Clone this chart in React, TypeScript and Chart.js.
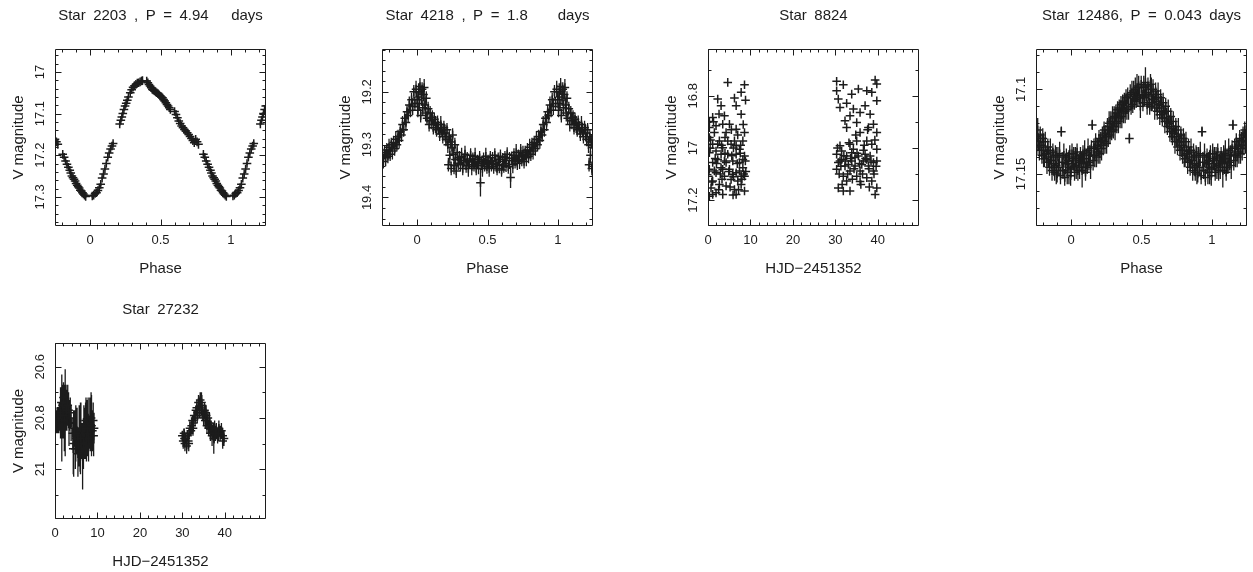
import React, { useEffect, useRef } from "react";
import { Chart, registerables } from "chart.js";

Chart.register(...registerables);

const INK = "#1c1c1c";
const FAMILY = '"Liberation Sans", Arial, sans-serif';
const SP = "\u2002"; // PGPLOT's wide word space

// ---------------- tick labels ----------------
const phaseMajorTicks = [0, 0.5, 1];
const hjdMajorTicks = [0, 10, 20, 30, 40];
const star2203MagTicks = [17, 17.1, 17.2, 17.3];
const star4218MagTicks = [19.2, 19.3, 19.4];
const star8824MagTicks = [16.8, 17, 17.2];
const star12486MagTicks = [17.1, 17.15];
const star27232MagTicks = [20.6, 20.8, 21];

// ---------------- titles ----------------
const titleWords = [
  ["Star", "2203", ",", "P", "=", "4.94", "", "", "days"],
  ["Star", "4218", ",", "P", "=", "1.8", "", "", "", "days"],
  ["Star", "8824"],
  ["Star", "12486,", "P", "=", "0.043", "days"],
  ["Star", "27232"],
];
const titles = titleWords.map((w) => w.join(SP));
const phaseLabel = "Phase";
const hjdLabel = "HJD\u22122451352";
const magLabel = "V magnitude";

// ---------------- data: [phase, V mag, error] (phase in 0..1) ----------------
const star2203 = [
  [0.015, 17.298, 0.004], [0.025, 17.296, 0.004], [0.035, 17.292, 0.004], [0.045, 17.29, 0.004], [0.055, 17.285, 0.004],
  [0.065, 17.278, 0.004], [0.075, 17.27, 0.004], [0.085, 17.255, 0.004], [0.095, 17.245, 0.004], [0.105, 17.233, 0.004],
  [0.115, 17.22, 0.004], [0.125, 17.205, 0.004], [0.135, 17.195, 0.004], [0.145, 17.185, 0.004], [0.155, 17.178, 0.004],
  [0.163, 17.172, 0.004], [0.21, 17.125, 0.004], [0.218, 17.116, 0.004], [0.225, 17.108, 0.004], [0.232, 17.1, 0.004],
  [0.24, 17.09, 0.004], [0.248, 17.082, 0.004], [0.256, 17.075, 0.004], [0.264, 17.068, 0.004], [0.272, 17.06, 0.004],
  [0.285, 17.05, 0.004], [0.295, 17.043, 0.004], [0.305, 17.037, 0.004], [0.315, 17.033, 0.004], [0.325, 17.03, 0.004],
  [0.335, 17.027, 0.004], [0.345, 17.026, 0.004], [0.355, 17.024, 0.004], [0.365, 17.022, 0.004], [0.372, 17.021, 0.004],
  [0.402, 17.022, 0.004], [0.41, 17.026, 0.004], [0.418, 17.03, 0.004], [0.426, 17.034, 0.004], [0.434, 17.038, 0.004],
  [0.442, 17.042, 0.004], [0.45, 17.044, 0.004], [0.458, 17.046, 0.004], [0.466, 17.048, 0.004], [0.474, 17.05, 0.004],
  [0.482, 17.052, 0.004], [0.49, 17.055, 0.004], [0.498, 17.058, 0.004], [0.506, 17.06, 0.004], [0.514, 17.062, 0.004],
  [0.522, 17.066, 0.004], [0.53, 17.07, 0.004], [0.538, 17.074, 0.004], [0.546, 17.078, 0.004], [0.554, 17.082, 0.004],
  [0.562, 17.086, 0.004], [0.57, 17.09, 0.004], [0.6, 17.095, 0.004], [0.61, 17.102, 0.004], [0.62, 17.11, 0.004],
  [0.63, 17.118, 0.004], [0.64, 17.124, 0.004], [0.65, 17.13, 0.004], [0.66, 17.134, 0.004], [0.67, 17.138, 0.004],
  [0.68, 17.142, 0.004], [0.69, 17.146, 0.004], [0.7, 17.15, 0.004], [0.71, 17.155, 0.004], [0.72, 17.16, 0.004],
  [0.73, 17.165, 0.004], [0.74, 17.17, 0.004], [0.75, 17.162, 0.004], [0.76, 17.168, 0.004], [0.77, 17.174, 0.004],
  [0.805, 17.198, 0.004], [0.815, 17.205, 0.004], [0.825, 17.214, 0.004], [0.835, 17.222, 0.004], [0.845, 17.229, 0.004],
  [0.855, 17.236, 0.004], [0.862, 17.243, 0.004], [0.87, 17.25, 0.004], [0.878, 17.254, 0.004], [0.885, 17.258, 0.004],
  [0.893, 17.262, 0.004], [0.9, 17.268, 0.004], [0.908, 17.272, 0.004], [0.915, 17.276, 0.004], [0.922, 17.279, 0.004],
  [0.93, 17.284, 0.004], [0.937, 17.286, 0.004], [0.945, 17.29, 0.004], [0.952, 17.293, 0.004], [0.96, 17.296, 0.004],
  [0.968, 17.299, 0.004],
];

const star4218 = [
  [0.0, 19.215, 0.016], [0.005, 19.235, 0.013], [0.01, 19.2, 0.016], [0.015, 19.222, 0.013], [0.02, 19.19, 0.016],
  [0.025, 19.245, 0.013], [0.03, 19.21, 0.016], [0.035, 19.195, 0.013], [0.04, 19.23, 0.016], [0.045, 19.205, 0.013],
  [0.05, 19.192, 0.016], [0.055, 19.225, 0.013], [0.06, 19.24, 0.016], [0.065, 19.212, 0.013], [0.07, 19.25, 0.013],
  [0.078, 19.232, 0.013], [0.085, 19.262, 0.013], [0.092, 19.24, 0.013], [0.1, 19.255, 0.016], [0.108, 19.248, 0.013],
  [0.115, 19.268, 0.013], [0.122, 19.252, 0.013], [0.13, 19.262, 0.016], [0.138, 19.272, 0.013], [0.145, 19.258, 0.013],
  [0.152, 19.268, 0.013], [0.16, 19.28, 0.013], [0.168, 19.262, 0.016], [0.175, 19.272, 0.013], [0.182, 19.285, 0.013],
  [0.19, 19.268, 0.013], [0.198, 19.278, 0.016], [0.205, 19.29, 0.013], [0.212, 19.272, 0.013], [0.218, 19.3, 0.016],
  [0.222, 19.338, 0.013], [0.228, 19.285, 0.013], [0.232, 19.32, 0.016], [0.238, 19.295, 0.013], [0.242, 19.345, 0.013],
  [0.248, 19.305, 0.016], [0.252, 19.282, 0.013], [0.258, 19.318, 0.013], [0.262, 19.34, 0.016], [0.268, 19.3, 0.013],
  [0.272, 19.328, 0.013], [0.278, 19.35, 0.013], [0.285, 19.315, 0.016], [0.292, 19.335, 0.013], [0.3, 19.325, 0.013],
  [0.308, 19.338, 0.013], [0.316, 19.322, 0.016], [0.324, 19.345, 0.013], [0.332, 19.33, 0.013], [0.34, 19.318, 0.016],
  [0.348, 19.34, 0.013], [0.356, 19.327, 0.013], [0.364, 19.345, 0.016], [0.372, 19.333, 0.013], [0.38, 19.32, 0.013],
  [0.388, 19.342, 0.016], [0.396, 19.328, 0.013], [0.404, 19.338, 0.013], [0.412, 19.322, 0.016], [0.42, 19.345, 0.013],
  [0.428, 19.332, 0.013], [0.436, 19.34, 0.016], [0.444, 19.325, 0.013], [0.45, 19.372, 0.026], [0.456, 19.335, 0.013],
  [0.464, 19.345, 0.016], [0.472, 19.328, 0.013], [0.48, 19.338, 0.013], [0.488, 19.322, 0.016], [0.496, 19.342, 0.013],
  [0.504, 19.332, 0.013], [0.512, 19.345, 0.016], [0.52, 19.325, 0.013], [0.528, 19.338, 0.013], [0.536, 19.33, 0.016],
  [0.544, 19.342, 0.013], [0.552, 19.32, 0.013], [0.56, 19.335, 0.016], [0.568, 19.345, 0.013], [0.576, 19.328, 0.013],
  [0.584, 19.338, 0.016], [0.592, 19.322, 0.013], [0.6, 19.348, 0.013], [0.608, 19.332, 0.016], [0.616, 19.34, 0.013],
  [0.624, 19.325, 0.013], [0.632, 19.336, 0.016], [0.64, 19.318, 0.013], [0.648, 19.342, 0.013], [0.656, 19.33, 0.016],
  [0.664, 19.362, 0.02], [0.672, 19.326, 0.013], [0.68, 19.338, 0.016], [0.688, 19.32, 0.013], [0.696, 19.332, 0.013],
  [0.704, 19.315, 0.016], [0.712, 19.335, 0.013], [0.72, 19.322, 0.013], [0.728, 19.33, 0.016], [0.736, 19.312, 0.013],
  [0.744, 19.328, 0.013], [0.752, 19.318, 0.016], [0.76, 19.332, 0.013], [0.768, 19.315, 0.013], [0.776, 19.325, 0.016],
  [0.784, 19.31, 0.013], [0.792, 19.322, 0.013], [0.8, 19.305, 0.016], [0.808, 19.318, 0.013], [0.816, 19.3, 0.013],
  [0.824, 19.312, 0.016], [0.832, 19.296, 0.013], [0.84, 19.308, 0.013], [0.848, 19.29, 0.016], [0.856, 19.3, 0.013],
  [0.864, 19.285, 0.013], [0.872, 19.292, 0.016], [0.88, 19.275, 0.013], [0.888, 19.282, 0.013], [0.896, 19.262, 0.016],
  [0.904, 19.272, 0.013], [0.912, 19.25, 0.013], [0.92, 19.258, 0.016], [0.928, 19.238, 0.013], [0.936, 19.245, 0.013],
  [0.944, 19.225, 0.016], [0.952, 19.235, 0.013], [0.96, 19.215, 0.013], [0.968, 19.228, 0.016], [0.976, 19.2, 0.013],
  [0.984, 19.222, 0.013], [0.992, 19.195, 0.016],
];

const star12486 = [
  [0.0, 17.147, 0.005], [0.006, 17.138, 0.006], [0.012, 17.144, 0.004], [0.018, 17.141, 0.007], [0.024, 17.149, 0.005],
  [0.03, 17.14, 0.006], [0.036, 17.145, 0.008], [0.042, 17.137, 0.005], [0.048, 17.148, 0.006], [0.054, 17.142, 0.004],
  [0.06, 17.146, 0.007], [0.066, 17.139, 0.005], [0.072, 17.143, 0.006], [0.078, 17.148, 0.01], [0.084, 17.138, 0.005],
  [0.09, 17.144, 0.006], [0.096, 17.137, 0.007], [0.102, 17.149, 0.005], [0.108, 17.141, 0.006], [0.114, 17.146, 0.004],
  [0.12, 17.136, 0.007], [0.126, 17.143, 0.005], [0.132, 17.139, 0.006], [0.138, 17.145, 0.008], [0.144, 17.135, 0.005],
  [0.15, 17.121, 0.003], [0.156, 17.142, 0.006], [0.162, 17.134, 0.005], [0.168, 17.139, 0.007], [0.174, 17.131, 0.005],
  [0.18, 17.14, 0.006], [0.186, 17.133, 0.004], [0.192, 17.137, 0.007], [0.198, 17.129, 0.005], [0.204, 17.138, 0.006],
  [0.21, 17.13, 0.005], [0.216, 17.135, 0.007], [0.222, 17.127, 0.005], [0.228, 17.133, 0.006], [0.234, 17.124, 0.005],
  [0.24, 17.131, 0.007], [0.246, 17.126, 0.005], [0.252, 17.132, 0.006], [0.258, 17.122, 0.005], [0.264, 17.128, 0.006],
  [0.27, 17.12, 0.007], [0.276, 17.127, 0.005], [0.282, 17.119, 0.006], [0.288, 17.125, 0.005], [0.294, 17.117, 0.007],
  [0.3, 17.124, 0.005], [0.306, 17.116, 0.006], [0.312, 17.122, 0.008], [0.318, 17.114, 0.005], [0.324, 17.12, 0.006],
  [0.33, 17.112, 0.005], [0.336, 17.119, 0.007], [0.342, 17.111, 0.005], [0.348, 17.117, 0.006], [0.354, 17.109, 0.005],
  [0.36, 17.116, 0.007], [0.366, 17.108, 0.005], [0.372, 17.114, 0.006], [0.378, 17.107, 0.005], [0.384, 17.113, 0.007],
  [0.39, 17.105, 0.005], [0.396, 17.112, 0.006], [0.402, 17.104, 0.005], [0.408, 17.111, 0.007], [0.414, 17.129, 0.003],
  [0.42, 17.103, 0.006], [0.426, 17.11, 0.005], [0.432, 17.102, 0.007], [0.438, 17.109, 0.005], [0.444, 17.101, 0.006],
  [0.45, 17.107, 0.005], [0.456, 17.1, 0.007], [0.462, 17.106, 0.005], [0.468, 17.099, 0.008], [0.474, 17.105, 0.005],
  [0.48, 17.098, 0.006], [0.486, 17.104, 0.005], [0.492, 17.11, 0.007], [0.498, 17.097, 0.005], [0.504, 17.103, 0.006],
  [0.51, 17.108, 0.005], [0.516, 17.099, 0.007], [0.522, 17.105, 0.005], [0.528, 17.096, 0.009], [0.534, 17.102, 0.005],
  [0.54, 17.109, 0.006], [0.546, 17.098, 0.005], [0.552, 17.104, 0.007], [0.558, 17.11, 0.005], [0.564, 17.097, 0.006],
  [0.57, 17.103, 0.01], [0.576, 17.108, 0.005], [0.582, 17.1, 0.006], [0.588, 17.106, 0.005], [0.594, 17.111, 0.007],
  [0.6, 17.101, 0.005], [0.606, 17.107, 0.006], [0.612, 17.113, 0.005], [0.618, 17.103, 0.007], [0.624, 17.109, 0.005],
  [0.63, 17.115, 0.006], [0.636, 17.105, 0.005], [0.642, 17.111, 0.007], [0.648, 17.117, 0.005], [0.654, 17.108, 0.006],
  [0.66, 17.114, 0.005], [0.666, 17.119, 0.007], [0.672, 17.11, 0.005], [0.678, 17.117, 0.006], [0.684, 17.122, 0.005],
  [0.69, 17.113, 0.007], [0.696, 17.12, 0.005], [0.702, 17.125, 0.006], [0.708, 17.116, 0.005], [0.714, 17.123, 0.007],
  [0.72, 17.128, 0.005], [0.726, 17.119, 0.006], [0.732, 17.126, 0.005], [0.738, 17.131, 0.007], [0.744, 17.122, 0.005],
  [0.75, 17.128, 0.006], [0.756, 17.134, 0.005], [0.762, 17.124, 0.007], [0.768, 17.131, 0.005], [0.774, 17.136, 0.006],
  [0.78, 17.127, 0.005], [0.786, 17.133, 0.007], [0.792, 17.139, 0.005], [0.798, 17.129, 0.006], [0.804, 17.136, 0.01],
  [0.81, 17.141, 0.005], [0.816, 17.131, 0.006], [0.822, 17.138, 0.005], [0.828, 17.143, 0.007], [0.834, 17.134, 0.005],
  [0.84, 17.14, 0.006], [0.846, 17.146, 0.005], [0.852, 17.136, 0.007], [0.858, 17.142, 0.005], [0.864, 17.148, 0.006],
  [0.87, 17.137, 0.005], [0.876, 17.144, 0.007], [0.882, 17.149, 0.005], [0.888, 17.139, 0.006], [0.894, 17.145, 0.011],
  [0.9, 17.15, 0.005], [0.906, 17.14, 0.006], [0.912, 17.146, 0.005], [0.918, 17.138, 0.007], [0.924, 17.151, 0.005],
  [0.93, 17.125, 0.003], [0.936, 17.143, 0.006], [0.942, 17.148, 0.005], [0.948, 17.139, 0.007], [0.954, 17.152, 0.005],
  [0.96, 17.144, 0.006], [0.966, 17.14, 0.005], [0.972, 17.149, 0.007], [0.978, 17.142, 0.005], [0.984, 17.146, 0.01],
  [0.99, 17.138, 0.005], [0.996, 17.151, 0.006],
];

// ---------------- data: [HJD-2451352, V mag, error] ----------------
const star8824 = [
  [4.65, 16.749], [8.6, 16.758], [7.81, 16.787], [2.29, 16.813], [6.23, 16.809], [8.84, 16.817], [3.08, 16.838],
  [6.63, 16.838], [3.87, 16.877], [1.1, 16.883], [0.32, 16.899], [7.81, 16.871], [3.47, 16.909], [1.89, 16.915],
  [5.05, 16.909], [6.63, 16.928], [8.6, 16.941], [1.5, 16.941], [4.26, 16.941], [0.32, 16.96], [2.68, 16.973],
  [6.23, 16.973], [8.21, 16.973], [1.1, 16.986], [5.44, 16.986], [3.47, 16.999], [7.42, 17.005], [1.89, 17.012],
  [0.32, 17.018], [4.65, 17.024], [6.63, 17.024], [8.6, 17.031], [2.29, 17.044], [3.87, 17.05], [5.84, 17.05],
  [7.42, 17.056], [1.1, 17.056], [0.32, 17.082], [3.08, 17.076], [5.05, 17.082], [8.21, 17.076], [1.89, 17.095],
  [6.63, 17.095], [3.87, 17.108], [0.1, 17.108], [8.6, 17.108], [1.1, 17.127], [5.44, 17.121], [7.02, 17.127],
  [2.68, 17.14], [4.26, 17.146], [7.81, 17.14], [0.71, 17.153], [6.23, 17.159], [1.89, 17.172], [3.47, 17.178],
  [8.6, 17.165], [0.32, 17.185], [1.1, 17.178], [6.63, 17.178], [1.5, 17.088], [3.47, 17.082], [5.84, 17.101],
  [7.42, 17.088], [8.21, 17.044], [4.26, 17.056], [2.29, 16.986], [6.63, 16.992], [0.32, 16.922], [4.65, 16.973],
  [3.08, 17.024], [7.81, 17.108], [0.5, 17.0], [2.0, 17.06], [2.9, 17.1], [4.0, 17.02], [4.9, 17.09], [5.6, 17.03],
  [6.0, 17.11], [6.9, 17.06], [7.6, 17.02], [8.4, 17.1], [8.8, 17.05], [0.9, 17.13], [2.5, 17.16], [3.3, 17.12],
  [5.2, 17.15], [5.9, 17.18], [7.2, 17.16], [8.0, 17.12], [1.3, 16.9], [2.6, 16.87], [4.0, 16.96], [5.5, 16.93],
  [7.0, 16.95], [8.3, 16.91], [0.6, 16.97], [3.2, 16.99], [6.0, 17.0], [7.7, 16.99], [8.9, 17.09], [1.7, 17.04],
  [30.3, 16.745], [31.87, 16.758], [39.37, 16.74], [39.76, 16.755], [33.85, 16.794], [35.42, 16.774], [37.4, 16.781],
  [38.58, 16.787], [30.3, 16.781], [30.69, 16.813], [32.66, 16.829], [34.24, 16.851], [39.76, 16.819], [31.09, 16.845],
  [37.0, 16.838], [35.82, 16.864], [38.19, 16.871], [33.45, 16.877], [32.27, 16.896], [35.03, 16.903], [38.97, 16.909],
  [32.66, 16.922], [37.79, 16.922], [35.82, 16.941], [39.76, 16.941], [35.03, 16.973], [37.4, 16.973], [31.09, 16.992],
  [33.45, 16.986], [38.58, 16.986], [31.48, 17.012], [34.24, 17.005], [36.61, 17.009], [39.76, 17.005], [30.3, 17.024],
  [32.66, 17.031], [35.42, 17.031], [38.19, 17.031], [31.09, 17.05], [33.85, 17.05], [36.61, 17.05], [39.76, 17.05],
  [32.27, 17.069], [34.64, 17.069], [37.79, 17.069], [30.3, 17.082], [33.45, 17.088], [35.82, 17.088], [38.97, 17.088],
  [31.87, 17.108], [35.03, 17.108], [37.4, 17.114], [32.66, 17.127], [35.82, 17.129], [38.58, 17.127], [30.69, 17.153],
  [33.45, 17.165], [39.76, 17.153], [31.87, 17.165], [39.37, 17.178], [31.48, 17.044], [34.64, 17.037], [37.4, 17.044],
  [33.06, 17.063], [36.22, 17.063], [38.97, 17.056], [30.69, 17.056], [33.85, 17.018], [37.0, 17.024],
  [30.5, 17.0], [31.3, 17.07], [32.0, 17.03], [32.9, 17.1], [33.6, 17.04], [34.4, 17.08], [35.1, 17.02], [35.7, 17.06],
  [36.4, 17.1], [37.1, 17.04], [37.9, 17.08], [38.4, 17.05], [39.1, 17.1], [39.6, 17.07], [30.9, 17.1], [32.4, 17.05],
  [34.0, 17.12], [36.0, 17.14], [38.0, 17.15], [31.6, 17.14], [33.2, 16.98], [36.8, 16.99], [39.3, 16.97], [34.8, 16.95],
  [37.6, 16.93],
];

const star27232 = [
  [0.2, 20.8, 0.03], [0.4, 20.82, 0.04], [0.5, 20.79, 0.03], [0.7, 20.81, 0.05], [0.9, 20.83, 0.03], [1.0, 20.78, 0.04],
  [1.2, 20.8, 0.05], [1.4, 20.76, 0.06], [1.5, 20.74, 0.05], [1.6, 20.8, 0.17], [1.8, 20.75, 0.08], [2.0, 20.72, 0.06],
  [2.1, 20.77, 0.1], [2.3, 20.74, 0.07], [2.4, 20.78, 0.17], [2.6, 20.76, 0.09], [2.8, 20.79, 0.06], [3.0, 20.75, 0.08],
  [3.2, 20.77, 0.07], [3.4, 20.8, 0.05], [3.6, 20.78, 0.06], [3.8, 20.82, 0.07], [4.2, 20.86, 0.06], [4.4, 20.9, 0.13],
  [4.6, 20.84, 0.07], [4.8, 20.92, 0.08], [5.0, 20.88, 0.06], [5.2, 20.85, 0.09], [5.5, 20.91, 0.07], [5.7, 20.87, 0.12],
  [5.9, 20.93, 0.08], [6.1, 20.84, 0.1], [6.3, 20.89, 0.07], [6.5, 20.95, 0.13], [6.8, 20.83, 0.08], [7.0, 20.86, 0.1],
  [7.2, 20.81, 0.07], [7.4, 20.88, 0.09], [7.6, 20.84, 0.11], [7.8, 20.8, 0.08], [8.0, 20.86, 0.07], [8.2, 20.82, 0.1],
  [8.4, 20.87, 0.06], [8.6, 20.83, 0.12], [8.8, 20.85, 0.08], [9.0, 20.81, 0.07], [9.2, 20.84, 0.06],
  [0.3, 20.82, 0.04], [0.8, 20.8, 0.04], [1.3, 20.78, 0.1], [1.9, 20.79, 0.09], [2.2, 20.81, 0.12], [2.7, 20.77, 0.08],
  [3.3, 20.82, 0.09], [4.3, 20.92, 0.1], [4.9, 20.86, 0.11], [5.4, 20.94, 0.09], [6.0, 20.88, 0.14], [6.7, 20.9, 0.1],
  [7.3, 20.84, 0.12], [7.9, 20.88, 0.09], [8.5, 20.8, 0.1], [9.1, 20.87, 0.08],
  [30.0, 20.87, 0.02], [30.2, 20.89, 0.03], [30.4, 20.86, 0.02], [30.6, 20.9, 0.03], [30.8, 20.88, 0.02],
  [31.0, 20.91, 0.03], [31.2, 20.87, 0.02], [31.4, 20.89, 0.03], [31.6, 20.86, 0.02], [31.8, 20.84, 0.03],
  [32.0, 20.85, 0.02], [32.2, 20.83, 0.03], [32.4, 20.81, 0.02], [32.6, 20.82, 0.03], [32.8, 20.79, 0.02],
  [33.0, 20.8, 0.03], [33.2, 20.77, 0.02], [33.4, 20.76, 0.03], [33.6, 20.78, 0.03], [33.8, 20.74, 0.03],
  [34.0, 20.76, 0.04], [34.2, 20.73, 0.03], [34.4, 20.77, 0.03], [34.6, 20.75, 0.04], [34.8, 20.78, 0.03],
  [35.0, 20.8, 0.03], [35.2, 20.77, 0.03], [35.4, 20.81, 0.03], [35.6, 20.79, 0.04], [35.8, 20.83, 0.03],
  [36.0, 20.8, 0.03], [36.2, 20.84, 0.03], [36.4, 20.82, 0.04], [36.6, 20.86, 0.03], [36.8, 20.84, 0.03],
  [37.0, 20.87, 0.04], [37.2, 20.85, 0.03], [37.4, 20.88, 0.06], [37.6, 20.84, 0.03], [37.8, 20.86, 0.03],
  [38.0, 20.85, 0.03], [38.3, 20.87, 0.03], [38.6, 20.84, 0.03], [38.9, 20.86, 0.03], [39.2, 20.85, 0.03],
  [39.5, 20.87, 0.03], [39.8, 20.88, 0.03], [30.5, 20.88, 0.03], [31.5, 20.9, 0.03], [32.5, 20.84, 0.03],
  [33.5, 20.79, 0.03], [34.5, 20.74, 0.04], [35.5, 20.78, 0.03], [36.5, 20.83, 0.03], [37.5, 20.86, 0.04],
  [38.5, 20.86, 0.03], [39.5, 20.89, 0.03],
];

// ---------------- helpers ----------------
// Phase-folded light curves are shown from -0.25 to 1.25: each measured point
// is also drawn one cycle earlier/later when it falls in the repeated range.
function foldPhase(base: number[][]) {
  const out: number[][] = [];
  for (const [p, m, e] of base) {
    out.push([p, m, e]);
    if (p < 0.25) out.push([p + 1, m, e]);
    if (p >= 0.75) out.push([p - 1, m, e]);
  }
  return out;
}

function ticksBetween(min: number, max: number, step: number) {
  const out: number[] = [];
  const a = Math.ceil(min / step - 1e-9);
  const b = Math.floor(max / step + 1e-9);
  for (let k = a; k <= b; k++) out.push(+(k * step).toFixed(6));
  return out;
}

const fmtTick = (v: number) => String(Math.round(v * 1000) / 1000);

type PanelCfg = {
  title: string;
  left: number;
  top: number;
  h: number;
  xTitle: string;
  xMin: number;
  xMax: number;
  yMin: number;
  yMax: number;
  xMajor: number[];
  xMinorStep: number;
  yMajor: number[];
  yMinorStep: number;
  yPad: number;
  points: number[][];
};

const PANELS: PanelCfg[] = [
  { title: titles[0], left: 55, top: 49, h: 177, xTitle: phaseLabel, xMin: -0.25, xMax: 1.25, yMin: 16.945, yMax: 17.37,
    xMajor: phaseMajorTicks, xMinorStep: 0.1, yMajor: star2203MagTicks, yMinorStep: 0.02, yPad: 1.8, points: foldPhase(star2203) },
  { title: titles[1], left: 382, top: 49, h: 177, xTitle: phaseLabel, xMin: -0.25, xMax: 1.25, yMin: 19.119, yMax: 19.454,
    xMajor: phaseMajorTicks, xMinorStep: 0.1, yMajor: star4218MagTicks, yMinorStep: 0.02, yPad: 1.8, points: foldPhase(star4218) },
  { title: titles[2], left: 708, top: 49, h: 177, xTitle: hjdLabel, xMin: 0, xMax: 49.7, yMin: 16.621, yMax: 17.299,
    xMajor: hjdMajorTicks, xMinorStep: 2, yMajor: star8824MagTicks, yMinorStep: 0.1, yPad: 1.8, points: star8824 },
  { title: titles[3], left: 1036, top: 49, h: 177, xTitle: phaseLabel, xMin: -0.25, xMax: 1.25, yMin: 17.0762, yMax: 17.1807,
    xMajor: phaseMajorTicks, xMinorStep: 0.1, yMajor: star12486MagTicks, yMinorStep: 0.01, yPad: -1.8, points: foldPhase(star12486) },
  { title: titles[4], left: 55, top: 343, h: 176, xTitle: hjdLabel, xMin: 0, xMax: 49.7, yMin: 20.507, yMax: 21.195,
    xMajor: hjdMajorTicks, xMinorStep: 2, yMajor: star27232MagTicks, yMinorStep: 0.1, yPad: 1.8, points: star27232 },
];

const LEFT_W = 55;
const TOP_H = 49;
const BOTTOM_H = 60;
const CANVAS_W = 321;

// error bars (vertical lines through each point)
const errorBarPlugin = {
  id: "errorBars",
  beforeDatasetsDraw(chart: any) {
    const { ctx, chartArea: a } = chart;
    const xs = chart.scales.x;
    const ys = chart.scales.y;
    ctx.save();
    ctx.beginPath();
    ctx.rect(a.left, a.top, a.right - a.left, a.bottom - a.top);
    ctx.clip();
    ctx.strokeStyle = INK;
    ctx.lineWidth = 1.3;
    ctx.beginPath();
    for (const p of chart.data.datasets[0].data) {
      if (!p.e) continue;
      const px = xs.getPixelForValue(p.x);
      ctx.moveTo(px, ys.getPixelForValue(p.y - p.e));
      ctx.lineTo(px, ys.getPixelForValue(p.y + p.e));
    }
    ctx.stroke();
    ctx.restore();
  },
};

// PGPLOT-style box with inward ticks on all four sides
const framePlugin = {
  id: "frame",
  afterDatasetsDraw(chart: any, _args: any, opts: any) {
    const { ctx, chartArea: a } = chart;
    const xs = chart.scales.x;
    const ys = chart.scales.y;
    const L = Math.round(a.left) + 0.5;
    const R = Math.round(a.right) - 0.5;
    const T = Math.round(a.top) + 0.5;
    const B = Math.round(a.bottom) - 0.5;
    ctx.save();
    ctx.strokeStyle = INK;
    ctx.lineWidth = 1;
    ctx.beginPath();
    ctx.rect(L, T, R - L, B - T);
    const xt = (vals: number[], len: number) => {
      for (const v of vals) {
        const px = Math.round(xs.getPixelForValue(v)) + 0.5;
        if (px < L || px > R) continue;
        ctx.moveTo(px, B);
        ctx.lineTo(px, B - len);
        ctx.moveTo(px, T);
        ctx.lineTo(px, T + len);
      }
    };
    const yt = (vals: number[], len: number) => {
      for (const v of vals) {
        const py = Math.round(ys.getPixelForValue(v)) + 0.5;
        if (py < T || py > B) continue;
        ctx.moveTo(L, py);
        ctx.lineTo(L + len, py);
        ctx.moveTo(R, py);
        ctx.lineTo(R - len, py);
      }
    };
    xt(opts.xMinor, 3);
    xt(opts.xMajor, 6);
    yt(opts.yMinor, 3);
    yt(opts.yMajor, 6);
    ctx.stroke();
    ctx.restore();
  },
};

function makeConfig(p: PanelCfg): any {
  return {
    type: "scatter",
    data: {
      datasets: [
        {
          data: p.points.map(([x, y, e]) => ({ x, y, e: e || 0 })),
          pointStyle: "cross",
          pointRadius: 4.3,
          pointHoverRadius: 4.3,
          pointBorderWidth: 1.5,
          borderColor: INK,
          backgroundColor: INK,
        },
      ],
    },
    options: {
      animation: false,
      responsive: false,
      maintainAspectRatio: false,
      events: [],
      layout: { padding: 0 },
      plugins: {
        legend: { display: false },
        tooltip: { enabled: false },
        title: {
          display: true,
          text: p.title,
          color: INK,
          font: { family: FAMILY, size: 15, weight: "normal", lineHeight: 1.2 },
          padding: { top: 7, bottom: 24 },
        },
        frame: {
          xMajor: p.xMajor,
          xMinor: ticksBetween(p.xMin, p.xMax, p.xMinorStep),
          yMajor: p.yMajor,
          yMinor: ticksBetween(p.yMin, p.yMax, p.yMinorStep),
        },
      },
      scales: {
        x: {
          type: "linear",
          position: "bottom",
          min: p.xMin,
          max: p.xMax,
          grid: { display: false, drawTicks: false },
          border: { display: false },
          afterBuildTicks: (s: any) => {
            s.ticks = p.xMajor.map((v) => ({ value: v }));
          },
          afterFit: (s: any) => {
            s.height = BOTTOM_H;
          },
          ticks: {
            autoSkip: false,
            maxRotation: 0,
            minRotation: 0,
            padding: 6.2,
            color: INK,
            font: { family: FAMILY, size: 13, lineHeight: 1.2 },
            callback: (v: number) => fmtTick(v),
          },
          title: {
            display: true,
            text: p.xTitle,
            color: INK,
            font: { family: FAMILY, size: 15, lineHeight: 1.2 },
            padding: { top: 0, bottom: 8 },
          },
        },
        y: {
          type: "linear",
          position: "left",
          reverse: true,
          min: p.yMin,
          max: p.yMax,
          grid: { display: false, drawTicks: false },
          border: { display: false },
          afterBuildTicks: (s: any) => {
            s.ticks = p.yMajor.map((v) => ({ value: v }));
          },
          afterFit: (s: any) => {
            s.width = LEFT_W;
          },
          ticks: {
            autoSkip: false,
            minRotation: 90,
            maxRotation: 90,
            crossAlign: "center",
            padding: p.yPad,
            color: INK,
            font: { family: FAMILY, size: 13, lineHeight: 1.2 },
            callback: (v: number) => fmtTick(v),
          },
          title: {
            display: true,
            text: magLabel,
            color: INK,
            font: { family: FAMILY, size: 15, lineHeight: 1.2 },
            padding: { top: 10, bottom: 0 },
          },
        },
        y2: {
          type: "linear",
          position: "right",
          display: true,
          grid: { display: false, drawTicks: false },
          border: { display: false },
          ticks: { display: false },
          afterFit: (s: any) => {
            s.width = LEFT_W;
          },
        },
      },
    },
    plugins: [errorBarPlugin, framePlugin],
  };
}

function LightCurvePanel({ p }: { p: PanelCfg }) {
  const ref = useRef<HTMLCanvasElement | null>(null);
  useEffect(() => {
    if (!ref.current) return;
    const chart = new Chart(ref.current, makeConfig(p));
    return () => chart.destroy();
  }, [p]);
  const h = TOP_H + p.h + BOTTOM_H;
  return (
    <canvas
      ref={ref}
      width={CANVAS_W}
      height={h}
      style={{
        position: "absolute",
        left: p.left - LEFT_W,
        top: p.top - TOP_H,
        width: CANVAS_W,
        height: h,
      }}
    />
  );
}

export default function App() {
  return (
    <div
      style={{
        position: "absolute",
        left: 0,
        top: 0,
        width: 1253,
        height: 572,
        overflow: "hidden",
        background: "#ffffff",
      }}
    >
      {PANELS.map((p, i) => (
        <LightCurvePanel key={i} p={p} />
      ))}
    </div>
  );
}
